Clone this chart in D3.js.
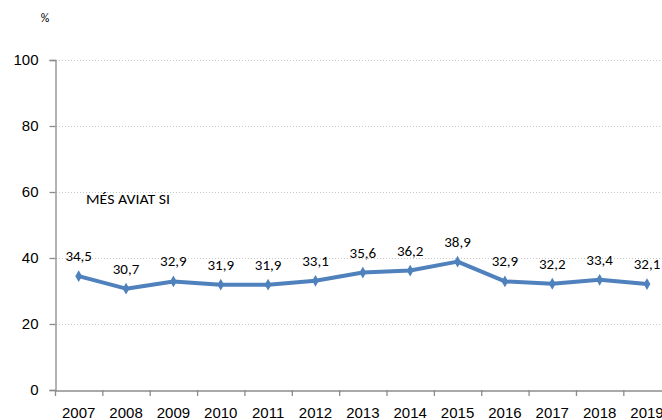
<!DOCTYPE html>
<html><head><meta charset="utf-8">
<script src="https://cdn.jsdelivr.net/npm/d3@7"></script>
<style>body{margin:0;background:#fff;}svg{display:block;font-family:Carlito,Calibri,Lato,sans-serif;}</style>
</head><body>
<script>
const years = ["2007","2008","2009","2010","2011","2012","2013","2014","2015","2016","2017","2018","2019"];
const values = [34.5,30.7,32.9,31.9,31.9,33.1,35.6,36.2,38.9,32.9,32.2,33.4,32.1];
const labels = ["34,5","30,7","32,9","31,9","31,9","33,1","35,6","36,2","38,9","32,9","32,2","33,4","32,1"];
const yTicks = [0,20,40,60,80,100];
const unitLabel = "%";
const seriesNote = "MÉS AVIAT SI";

(function () {
const W = 662, H = 420;
const svg = d3.select("body").append("svg").attr("width", W).attr("height", H);
const mLeft = 55, mTop = 60, mBottom = 390;
const step = 47.36;
const x = d3.scaleBand().domain(years).range([mLeft, mLeft + step * years.length]).paddingInner(0).paddingOuter(0);
const y = d3.scaleLinear().domain([0, 100]).range([mBottom, mTop]);

// gridlines
svg.append("g").selectAll("line").data(yTicks.filter(d => d > 0)).join("line")
  .attr("x1", mLeft + 1).attr("x2", W).attr("y1", d => y(d) + 0.5).attr("y2", d => y(d) + 0.5)
  .attr("stroke", "#c8c8c8").attr("stroke-width", 1).attr("stroke-dasharray", "1,2");

// y axis
const yAxis = svg.append("g").attr("transform", `translate(${mLeft + 0.5},0)`)
  .call(d3.axisLeft(y).tickValues(yTicks).tickSize(6).tickPadding(11).tickFormat(d3.format("d")));
yAxis.select(".domain").attr("stroke", "#8c8c8c").attr("stroke-width", 1.3);
yAxis.selectAll(".tick line").attr("stroke", "#8c8c8c").attr("stroke-width", 1.3);
yAxis.selectAll(".tick text").attr("font-size", 15).attr("fill", "#000");

// x axis
const xAxis = svg.append("g").attr("transform", `translate(0,${mBottom + 0.5})`)
  .call(d3.axisBottom(x).tickSize(0).tickPadding(17));
xAxis.select(".domain").attr("stroke", "#8c8c8c").attr("stroke-width", 1.3);
xAxis.selectAll(".tick text").attr("font-size", 15).attr("fill", "#000");
// boundary ticks
svg.append("g").selectAll("line").data(years).join("line")
  .attr("x1", d => x(d) + 0.5).attr("x2", d => x(d) + 0.5)
  .attr("y1", mBottom).attr("y2", mBottom + 6)
  .attr("stroke", "#8c8c8c").attr("stroke-width", 1.3);

// line
const cx = d => x(d) + x.bandwidth() / 2;
const line = d3.line().x((d, i) => cx(years[i])).y(d => y(d));
svg.append("path").datum(values).attr("d", line)
  .attr("fill", "none").attr("stroke", "#4f81bd").attr("stroke-width", 4).attr("stroke-linejoin", "round");
svg.append("g").selectAll("path").data(values).join("path")
  .attr("d", d3.symbol(d3.symbolDiamond, 40))
  .attr("transform", (d, i) => `translate(${cx(years[i])},${y(d)})`)
  .attr("fill", "#4f81bd");

// data labels
svg.append("g").selectAll("text").data(values).join("text")
  .attr("x", (d, i) => cx(years[i])).attr("y", d => y(d) - 15)
  .attr("text-anchor", "middle").attr("font-size", 15).attr("fill", "#000")
  .text((d, i) => labels[i]);

svg.append("text").attr("x", 45).attr("y", 22).attr("text-anchor", "middle").attr("font-size", 12).text(unitLabel);
svg.append("text").attr("x", 86).attr("y", 204).attr("font-size", 14)
  .attr("textLength", 84).attr("lengthAdjust", "spacingAndGlyphs").text(seriesNote);
})();
</script>
</body></html>
